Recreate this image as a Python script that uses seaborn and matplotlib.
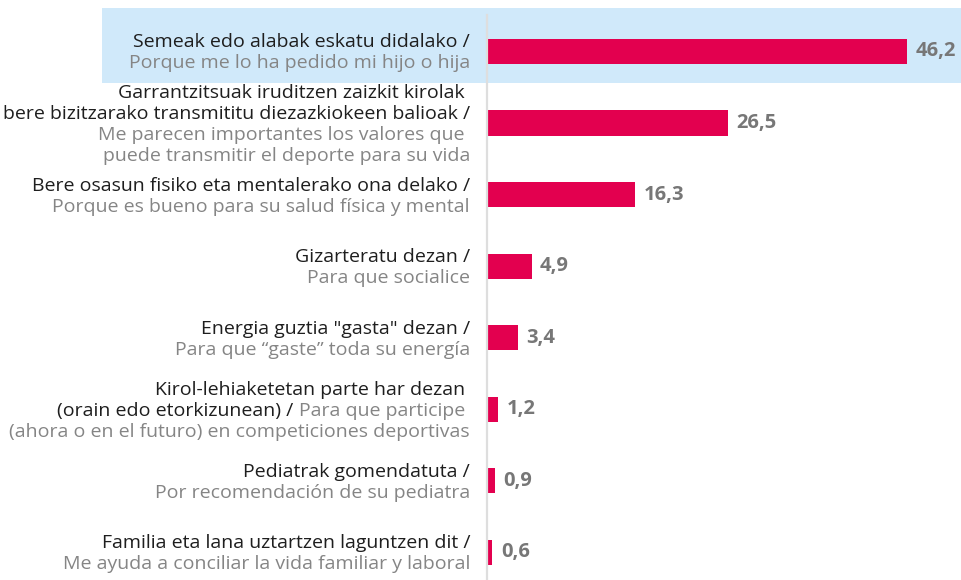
import pandas as pd
import seaborn as sns
import matplotlib as mpl
mpl.use('Agg')
import matplotlib.pyplot as plt
from matplotlib.patches import Rectangle
from matplotlib.transforms import blended_transform_factory, offset_copy

# data, top to bottom
values = [46.2, 26.5, 16.3, 4.9, 3.4, 1.2, 0.9, 0.6]

DARK = "#1e1e1e"
GREY = "#858585"

# each label: list of lines, each line a list of (text, colour) pieces
label_lines = [
    [[("Semeak edo alabak eskatu didalako /", DARK)],
     [("Porque me lo ha pedido mi hijo o hija", GREY)]],
    [[("Garrantzitsuak iruditzen zaizkit kirolak ", DARK)],
     [("bere bizitzarako transmititu diezazkiokeen balioak /", DARK)],
     [("Me parecen importantes los valores que ", GREY)],
     [("puede transmitir el deporte para su vida", GREY)]],
    [[("Bere osasun fisiko eta mentalerako ona delako /", DARK)],
     [("Porque es bueno para su salud física y mental", GREY)]],
    [[("Gizarteratu dezan /", DARK)],
     [("Para que socialice", GREY)]],
    [[("Energia guztia \"gasta\" dezan /", DARK)],
     [("Para que “gaste” toda su energía", GREY)]],
    [[("Kirol-lehiaketetan parte har dezan ", DARK)],
     [("(orain edo etorkizunean) / ", DARK), ("Para que participe ", GREY)],
     [("(ahora o en el futuro) en competiciones deportivas", GREY)]],
    [[("Pediatrak gomendatuta /", DARK)],
     [("Por recomendación de su pediatra", GREY)]],
    [[("Familia eta lana uztartzen laguntzen dit /", DARK)],
     [("Me ayuda a conciliar la vida familiar y laboral", GREY)]],
]

keys = ["r%d" % i for i in range(len(values))]
df = pd.DataFrame({"key": keys, "pct": values})

sns.set_style("white")
plt.rcParams['font.family'] = ['Open Sans', 'DejaVu Sans']

W, H = 961, 580
fig = plt.figure(figsize=(W / 100, H / 100), dpi=100)

# highlighted first row
fig.patches.append(Rectangle((102 / W, 1 - 83 / H), 1 - 102 / W, 75 / H,
                             transform=fig.transFigure, facecolor="#d0e9fa",
                             edgecolor="none", zorder=-1))

ax = fig.add_axes([487 / W, 0, 455 / W, 1 - 15 / H])
ax.patch.set_alpha(0)

sns.barplot(data=df, x="pct", y="key", order=keys, color="#e3004f",
            width=0.35, saturation=1, linewidth=0, ax=ax)

ax.set_xlim(0, 50)
ax.set_ylim(7.39, -0.51)
ax.set_xlabel("")
ax.set_ylabel("")
ax.set_xticks([])
ax.set_yticks([])
for s in ["top", "right", "bottom"]:
    ax.spines[s].set_visible(False)
ax.spines["left"].set_color("#dedede")
ax.spines["left"].set_linewidth(1.6)

ax.bar_label(ax.containers[0],
             labels=[("%.1f" % v).replace(".", ",") for v in values],
             padding=6, fontsize=14.5, fontweight="bold", color="#777777")

# category labels, drawn right to left piece by piece
renderer = fig.canvas.get_renderer()
trans = blended_transform_factory(fig.transFigure, ax.transData)
x_right = 470 / W
line_h = 21
for i, lines in enumerate(label_lines):
    n = len(lines)
    for j, pieces in enumerate(lines):
        dy = (j - (n - 1) / 2) * line_h + 6.5
        x = x_right
        for txt, col in reversed(pieces):
            t = ax.text(x, i, txt, ha="right", va="baseline", color=col,
                        fontsize=14,
                        transform=offset_copy(trans, fig=fig, y=-dy, units="dots"))
            bb = t.get_window_extent(renderer)
            x = bb.x0 / W

fig.savefig("out.png", dpi=100)
